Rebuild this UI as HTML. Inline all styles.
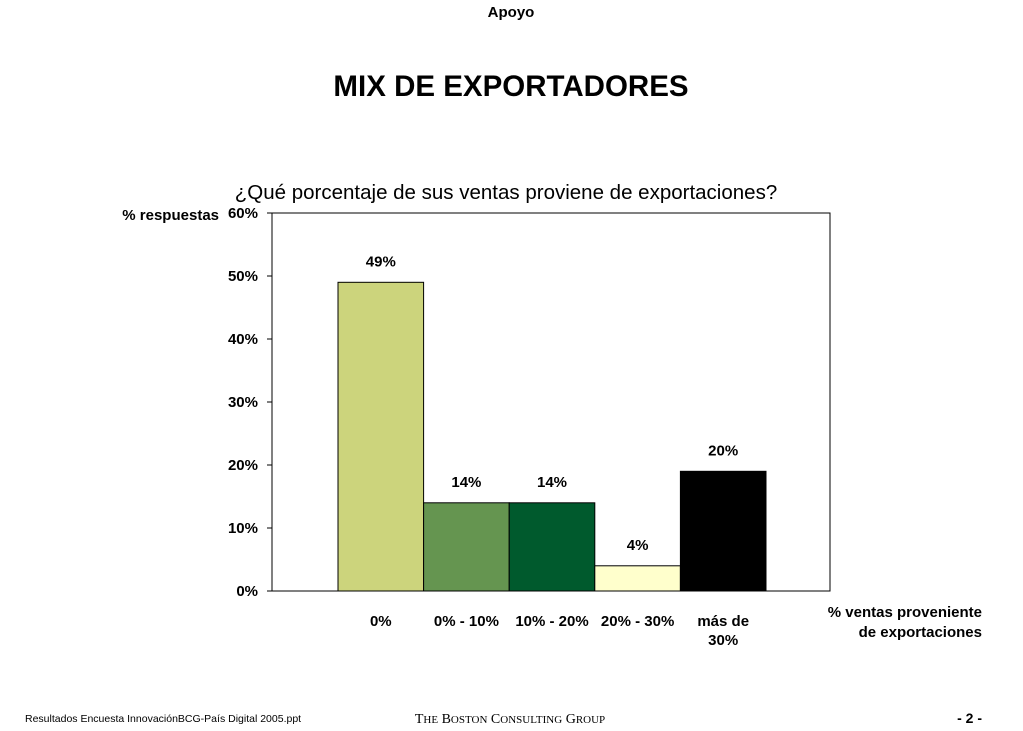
<!DOCTYPE html>
<html><head><meta charset="utf-8"><style>
body{margin:0;width:1023px;height:731px;background:#fff;overflow:hidden;font-family:"Liberation Sans",sans-serif}
</style></head><body>
<svg width="1023" height="731" style="position:absolute;left:0;top:0">
<text x="511" y="17" text-anchor="middle" font-size="15" font-weight="bold">Apoyo</text>
<text x="511" y="96" text-anchor="middle" font-size="29.5" font-weight="bold">MIX DE EXPORTADORES</text>
<text x="506" y="199" text-anchor="middle" font-size="20.5">¿Qué porcentaje de sus ventas proviene de exportaciones?</text>
<text x="219" y="220" text-anchor="end" font-size="15" font-weight="bold">% respuestas</text>
<g id="plot"></g>
<text x="982" y="617" text-anchor="end" font-size="15" font-weight="bold"><tspan x="982">% ventas proveniente</tspan><tspan x="982" dy="20">de exportaciones</tspan></text>
<text x="25" y="722" font-size="10.5">Resultados Encuesta InnovaciónBCG-País Digital 2005.ppt</text>
<text x="510" y="723" text-anchor="middle" font-size="14" font-family="Liberation Serif">T<tspan font-size="11">HE</tspan> B<tspan font-size="11">OSTON</tspan> C<tspan font-size="11">ONSULTING</tspan> G<tspan font-size="11">ROUP</tspan></text>
<text x="982" y="723" text-anchor="end" font-size="14" font-weight="bold">- 2 -</text>
</svg>
<script>
const categories=[["0%"],["0% - 10%"],["10% - 20%"],["20% - 30%"],["más de","30%"]];
const values=[49,14,14,4,19];
const valueLabels=["49%","14%","14%","4%","20%"];
const yTicks=[0,10,20,30,40,50,60];
const colors=["#ccd47c","#659550","#005a2d","#ffffcc","#000000"];
const NS="http://www.w3.org/2000/svg";
const g=document.getElementById('plot');
const L=272,R=830,T=213,B=591,bw=85.6;
const y=v=>B-(v/60)*(B-T);
const x0=(L+R)/2-bw*categories.length/2+1;
const xc=i=>x0+bw*i+bw/2;
function mk(t,a){const e=document.createElementNS(NS,t);for(const k in a)e.setAttribute(k,a[k]);g.appendChild(e);return e;}
let f=mk('rect',{x:L,y:T,width:R-L,height:B-T,fill:'#fff',stroke:'#000','stroke-width':1});


yTicks.forEach(v=>{
 let l=mk('line',{x1:L-5,x2:L,y1:y(v),y2:y(v),stroke:'#000'});
 
 
 let t=mk('text',{x:L-14,y:y(v)+5,'text-anchor':'end','font-size':15,'font-weight':'bold'});
 
 
 t.textContent=v+'%';
});
values.forEach((v,i)=>{
 let r=mk('rect',{x:xc(i)-bw/2,y:y(v),width:bw,height:B-y(v),fill:colors[i],stroke:'#000','stroke-width':1});
 
 
 let t=mk('text',{x:xc(i),y:y(v)-16,'text-anchor':'middle','font-size':15,'font-weight':'bold'});
 
 
 t.textContent=valueLabels[i];
 let c=mk('text',{x:xc(i),y:626,'text-anchor':'middle','font-size':15,'font-weight':'bold'});
 
 
 categories[i].forEach((s,j)=>{const ts=document.createElementNS(NS,'tspan');ts.setAttribute('x',xc(i));ts.setAttribute('dy',j?19:0);ts.textContent=s;c.appendChild(ts);});
});
</script>
</body></html>
